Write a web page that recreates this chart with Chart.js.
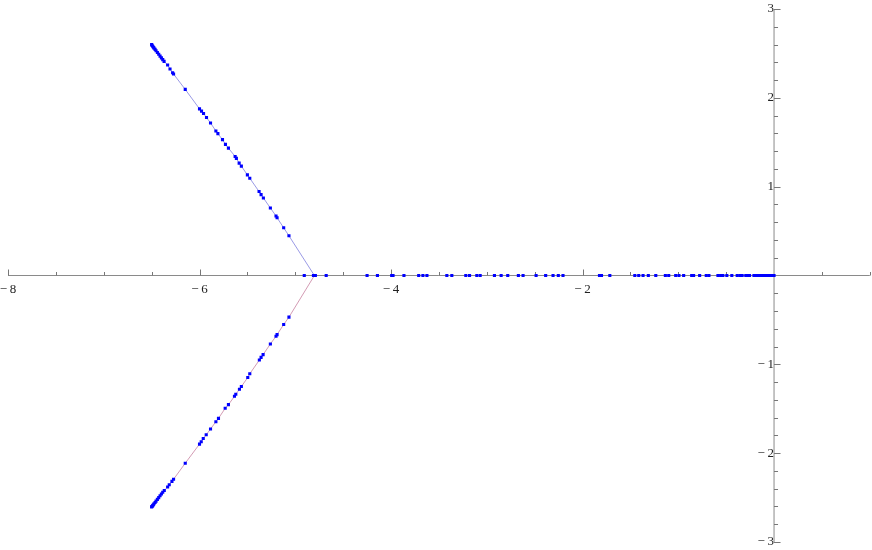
<!DOCTYPE html>
<html>
<head>
<meta charset="utf-8">
<script src="https://cdn.jsdelivr.net/npm/chart.js@4.4.1/dist/chart.umd.min.js"></script>
<style>
  body { margin: 0; background: #fff; }
  #wrap { width: 872px; height: 550px; }
</style>
</head>
<body>
<div id="wrap"><canvas id="locusChart" width="872" height="550"></canvas></div>
<script>
// upper complex branch (from breakaway point outwards)
const upperX = [-4.80, -5.066, -5.121, -5.190, -5.201, -5.260, -5.333, -5.357, -5.378, -5.475, -5.500,
    -5.563, -5.586, -5.615, -5.628, -5.698, -5.729, -5.760, -5.808, -5.829, -5.885, -5.927, -5.958,
    -5.979, -6.000, -6.149, -6.271, -6.281, -6.308, -6.333, -6.370, -6.384, -6.398, -6.412, -6.426,
    -6.440, -6.454, -6.464, -6.475, -6.482, -6.489, -6.496, -6.500];
const upperY = [0, 0.447, 0.537, 0.650, 0.670, 0.760, 0.873, 0.911, 0.945, 1.095, 1.133,
    1.231, 1.265, 1.318, 1.340, 1.434, 1.476, 1.529, 1.597, 1.627, 1.717, 1.778, 1.824,
    1.850, 1.876, 2.095, 2.268, 2.283, 2.325, 2.370, 2.41, 2.43, 2.45, 2.47, 2.49,
    2.51, 2.53, 2.545, 2.56, 2.57, 2.58, 2.59, 2.60];

// lower complex branch
const lowerX = [-4.80, -5.066, -5.121, -5.190, -5.201, -5.260, -5.336, -5.357, -5.375, -5.475, -5.496,
    -5.563, -5.583, -5.621, -5.635, -5.698, -5.732, -5.802, -5.829, -5.885, -5.930, -5.961, -5.982,
    -6.000, -6.149, -6.271, -6.288, -6.316, -6.333, -6.368, -6.384, -6.398, -6.412, -6.426, -6.440,
    -6.454, -6.464, -6.475, -6.482, -6.489, -6.496, -6.500];
const lowerY = [0, -0.469, -0.552, -0.665, -0.684, -0.771, -0.891, -0.922, -0.952, -1.106, -1.148,
    -1.250, -1.281, -1.337, -1.360, -1.454, -1.495, -1.608, -1.646, -1.728, -1.793, -1.835, -1.872,
    -1.898, -2.113, -2.294, -2.317, -2.355, -2.381, -2.42, -2.44, -2.46, -2.48, -2.50, -2.52,
    -2.54, -2.555, -2.57, -2.58, -2.59, -2.60, -2.605];

// roots on the real axis
const realX = [-4.906, -4.81, -4.80, -4.79, -4.677, -4.250, -4.142, -3.993, -3.979, -3.865, -3.711,
    -3.667, -3.625, -3.417, -3.365, -3.219, -3.180, -3.104, -3.069, -2.920, -2.850, -2.781, -2.670,
    -2.621, -2.485, -2.385, -2.308, -2.253, -2.204, -1.823, -1.802, -1.715, -1.454, -1.413, -1.368,
    -1.313, -1.235, -1.135, -1.100, -1.027, -0.993, -0.944, -0.860, -0.840, -0.777, -0.708, -0.680,
    -0.586, -0.558, -0.534, -0.493, -0.441, -0.385, -0.357, -0.333, -0.295, -0.274, -0.256, -0.21,
    -0.19, -0.17, -0.15, -0.13, -0.11, -0.09, -0.07, -0.05, -0.04, -0.03, -0.02, -0.01, 0];
const realY = realX.map(() => 0);

const xLabels = [-8, -6, -4, -2];
const yLabels = [-3, -2, -1, 1, 2, 3];

const toPoints = (xs, ys) => xs.map((x, i) => ({ x: x, y: ys[i] }));
const fmt = v => (v < 0 ? '\u2212\u2009' + Math.abs(v) : String(v));
const near = (a, b) => Math.abs(a - b) < 1e-6;
const noPad = scale => {
    scale.paddingLeft = 0;
    scale.paddingRight = 0;
    scale.paddingTop = 0;
    scale.paddingBottom = 0;
};

const pointCommon = {
    pointStyle: 'rect',
    pointRadius: 2.2,
    pointBorderWidth: 0,
    pointBackgroundColor: '#0000ff',
    pointHoverRadius: 2.2
};

// axes through the origin, ticks on the inner side (Mathematica look)
const axesPlugin = {
    id: 'axesPlugin',
    beforeDatasetsDraw(chart) {
        const { ctx, scales: { x, y } } = chart;
        const x0 = x.getPixelForValue(0);
        const y0 = y.getPixelForValue(0);
        ctx.save();
        ctx.lineWidth = 1;
        ctx.strokeStyle = '#8a8a8a';
        ctx.beginPath();
        ctx.moveTo(x.getPixelForValue(-8), y0);
        ctx.lineTo(x.right, y0);
        ctx.moveTo(x0, y.getPixelForValue(3));
        ctx.lineTo(x0, y.getPixelForValue(-3));
        ctx.stroke();

        ctx.strokeStyle = '#777';
        ctx.beginPath();
        x.ticks.forEach(t => {
            if (near(t.value, 0)) return;
            const px = Math.round(x.getPixelForValue(t.value)) + 0.5;
            const len = near(t.value % 2, 0) ? 6 : 3.5;
            ctx.moveTo(px, y0);
            ctx.lineTo(px, y0 - len);
        });
        y.ticks.forEach(t => {
            if (near(t.value, 0)) return;
            const py = Math.round(y.getPixelForValue(t.value)) + 0.5;
            const len = near(t.value, Math.round(t.value)) ? 6.5 : 4;
            ctx.moveTo(x0, py);
            ctx.lineTo(x0 + len, py);
        });
        ctx.stroke();
        ctx.restore();
    }
};

new Chart(document.getElementById('locusChart').getContext('2d'), {
    type: 'scatter',
    data: {
        datasets: [
            Object.assign({ label: 'upper', data: toPoints(upperX, upperY), showLine: true,
                borderColor: 'rgba(120,120,220,0.75)', borderWidth: 1 }, pointCommon),
            Object.assign({ label: 'lower', data: toPoints(lowerX, lowerY), showLine: true,
                borderColor: 'rgba(200,130,160,0.8)', borderWidth: 1 }, pointCommon),
            Object.assign({ label: 'real', data: toPoints(realX, realY), showLine: false }, pointCommon)
        ]
    },
    options: {
        responsive: false,
        animation: false,
        layout: { padding: { left: 8, right: 0, top: 9, bottom: 8 } },
        plugins: {
            legend: { display: false },
            tooltip: { enabled: false }
        },
        scales: {
            x: {
                type: 'linear',
                min: -8,
                max: 1,
                position: { y: 0 },
                afterFit: noPad,
                grid: { display: false, drawTicks: false },
                border: { display: false },
                ticks: {
                    stepSize: 0.5,
                    autoSkip: false,
                    maxRotation: 0,
                    padding: 6,
                    color: '#222',
                    font: { family: 'Liberation Serif', size: 13 },
                    callback: v => (xLabels.some(l => near(l, v)) ? fmt(v) : '')
                }
            },
            y: {
                type: 'linear',
                min: -3,
                max: 3,
                position: { x: 0 },
                afterFit: noPad,
                grid: { display: false, drawTicks: false },
                border: { display: false },
                ticks: {
                    stepSize: 0.2,
                    autoSkip: false,
                    padding: 5,
                    color: '#222',
                    font: { family: 'Liberation Serif', size: 13 },
                    callback: v => (yLabels.some(l => near(l, v)) ? fmt(Math.round(v)) : '')
                }
            }
        }
    },
    plugins: [axesPlugin]
});
</script>
</body>
</html>
